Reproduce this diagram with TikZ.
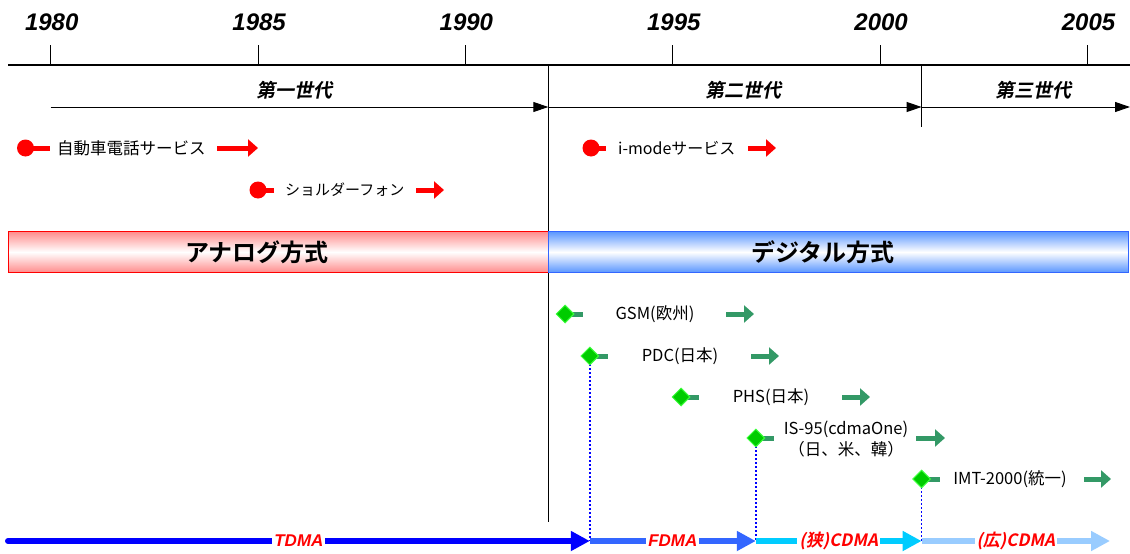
\documentclass[tikz,border=0pt]{standalone}
\usepackage{fontspec}
\setmainfont{Liberation Sans}
\newfontfamily\jp{Noto Sans CJK JP}
\newfontfamily\jpsl[FakeSlant=0.2]{Noto Sans CJK JP}
\newfontfamily\jpb{Noto Sans CJK JP Bold}
\newfontfamily\jpbsl[FakeSlant=0.2]{Noto Sans CJK JP Bold}
\usetikzlibrary{arrows.meta,shapes.geometric}
\definecolor{sea}{RGB}{51,153,102}
\definecolor{gdiam}{RGB}{0,204,0}
\definecolor{gdiamb}{RGB}{60,255,60}
\definecolor{fblue}{RGB}{51,102,255}
\definecolor{ncyan}{RGB}{0,204,255}
\definecolor{wblue}{RGB}{153,204,255}
\definecolor{pinkedge}{RGB}{255,140,140}
\definecolor{blueedge}{RGB}{90,150,255}
\tikzset{
  year/.style={font=\fontsize{24}{24}\selectfont\bfseries\itshape},
  gen/.style={font=\jpbsl\fontsize{19}{19}\selectfont},
  genarr/.style={line width=1pt,-{Triangle[length=15pt,width=10pt]}},
  lbl/.style={font=\jp\fontsize{16.5}{16.5}\selectfont,inner sep=0pt},
  glbl/.style={font=\jp\fontsize{16.5}{21}\selectfont,inner sep=0pt,align=center},
  rdot/.style={circle,fill=red,inner sep=0pt,minimum size=17pt},
  rstub/.style={red,line width=5pt},
  rarr/.style={red,line width=5pt,-{Triangle[length=10pt,width=17pt]}},
  gdia/.style={diamond,fill=gdiam,draw=gdiamb,line width=1pt,inner sep=0pt,minimum size=18pt},
  gstub/.style={sea,line width=5pt},
  garr/.style={sea,line width=5pt,-{Triangle[length=10pt,width=17pt]}},
  bar/.style={line width=1pt,minimum width=540pt,minimum height=41pt,anchor=north west,inner sep=0pt},
  bartext/.style={font=\jpb\fontsize{24}{24}\selectfont},
  bluedot/.style={draw=blue,line width=1.6pt,dash pattern=on 2pt off 2pt},
  tech/.style={line width=6pt,-{Triangle[length=19pt,width=19pt]}},
  techlbl/.style={fill=white,text=red,inner sep=2pt,font=\fontsize{17}{17}\selectfont\bfseries\itshape},
  techlblj/.style={fill=white,text=red,inner sep=2pt,font=\jpbsl\fontsize{17}{17}\selectfont},
}
\begin{document}
\begin{tikzpicture}[x=1pt,y=-1pt]
\useasboundingbox (0,0) rectangle (1130,554);
% years
\foreach \yr/\xx in {1980/50.7,1985/258.1,1990/465.4,1995/672.8,2000/880.1,2005/1087.5}{
  \node[year] (y\yr) at (\xx+1,22) {\yr};
  \coordinate (tk\yr) at (\xx,45);
  \coordinate (tb\yr) at (\xx,65);
  \draw[line width=1.2pt] (tk\yr) -- (tb\yr);
}
\coordinate (axL) at (8,65);
\coordinate (axR) at (1130,65);
\draw[line width=1.5pt] (axL) -- (axR);
% generation dividers
\coordinate (d1t) at (548.3,65);
\coordinate (d1b) at (548.3,522);
\draw[line width=1pt] (d1t) -- (d1b);
\coordinate (d2t) at (921.6,65);
\coordinate (d2b) at (921.6,127);
\draw[line width=1pt] (d2t) -- (d2b);
% generation arrows
\coordinate (g1s) at (50.7,107);
\coordinate (g1e) at (548.3,107);
\coordinate (g2e) at (921.6,107);
\coordinate (g3e) at (1130,107);
\draw[genarr] (g1s) -- (g1e);
\draw[genarr] (g1e) -- (g2e);
\draw[genarr] (g2e) -- (g3e);
\node[gen] (gen1) at (294,90) {第一世代};
\node[gen] (gen2) at (743,90) {第二世代};
\node[gen] (gen3) at (1033,90) {第三世代};
% red services
\node[rdot] (m1) at (25.5,148) {};
\coordinate (m1s) at (50,148);
\draw[rstub] (m1.center) -- (m1s);
\node[lbl,anchor=west] (t1) at (57,148) {自動車電話サービス};
\coordinate (a1s) at (217,148);
\coordinate (a1e) at (258,148);
\draw[rarr] (a1s) -- (a1e);

\node[rdot] (m2) at (258,190) {};
\coordinate (m2s) at (274,190);
\draw[rstub] (m2.center) -- (m2s);
\node[lbl,anchor=west,font=\jp\fontsize{15}{15}\selectfont] (t2) at (285,190) {ショルダーフォン};
\coordinate (a2s) at (416,190);
\coordinate (a2e) at (444,190);
\draw[rarr] (a2s) -- (a2e);

\node[rdot] (m3) at (591,148) {};
\coordinate (m3s) at (606,148);
\draw[rstub] (m3.center) -- (m3s);
\node[lbl,anchor=west,font=\jp\fontsize{16}{16}\selectfont] (t3) at (618,148) {i-modeサービス};
\coordinate (a3s) at (748,148);
\coordinate (a3e) at (776,148);
\draw[rarr] (a3s) -- (a3e);
% bars
\node[bar,draw=red,top color=pinkedge,bottom color=pinkedge,middle color=white] (ana) at (8,231) {};
\node[bartext] (anat) at (257,252) {アナログ方式};
\node[bar,draw=fblue,minimum width=580pt,top color=blueedge,bottom color=blueedge,middle color=white] (dig) at (548.3,231) {};
\node[bartext] (digt) at (823,252) {デジタル方式};
% bottom technology arrows
\coordinate (b0) at (8,541);
\coordinate (b1) at (589.8,541);
\coordinate (b2) at (755.8,541);
\coordinate (b3) at (921.6,541);
\coordinate (b4) at (1110,541);
% dotted connectors
\coordinate (p1) at (589.8,356);
\coordinate (p2) at (755.8,438);
\coordinate (p3) at (921.6,479);
\draw[bluedot] (p1) -- (b1);
\draw[bluedot] (p2) -- (b2);
\draw[bluedot] (p3) -- (b3);
\draw[tech,blue,line cap=round] (b0) -- (b1) node[midway,techlbl] (l1) {TDMA};
\draw[tech,fblue] (b1) -- (b2) node[midway,techlbl] (l2) {FDMA};
\draw[tech,ncyan] (b2) -- (b3) node[midway,techlblj] (l3) {(狭)CDMA};
\draw[tech,wblue] (b3) -- (b4) node[midway,techlblj] (l4) {(広)CDMA};
% green standards
\coordinate (s1s) at (583,314);
\coordinate (s1c) at (565,314);
\draw[gstub] (s1c) -- (s1s);
\node[gdia] (s1) at (s1c) {};
\node[glbl] (u1) at (655,314) {GSM(欧州)};
\coordinate (c1s) at (726,314);
\coordinate (c1e) at (754,314);
\draw[garr] (c1s) -- (c1e);

\coordinate (s2s) at (608,356);
\draw[gstub] (p1) -- (s2s);
\node[gdia] (s2) at (p1) {};
\node[glbl] (u2) at (680,356) {PDC(日本)};
\coordinate (c2s) at (751,356);
\coordinate (c2e) at (779,356);
\draw[garr] (c2s) -- (c2e);

\coordinate (s3s) at (699,397);
\coordinate (s3c) at (681,397);
\draw[gstub] (s3c) -- (s3s);
\node[gdia] (s3) at (s3c) {};
\node[glbl] (u3) at (771,397) {PHS(日本)};
\coordinate (c3s) at (842,397);
\coordinate (c3e) at (870,397);
\draw[garr] (c3s) -- (c3e);

\coordinate (s4s) at (774,438);
\draw[gstub] (p2) -- (s4s);
\node[gdia] (s4) at (p2) {};
\node[glbl] (u4) at (846,439) {IS-95(cdmaOne)\\（日、米、韓）};
\coordinate (c4s) at (916,438);
\coordinate (c4e) at (945,438);
\draw[garr] (c4s) -- (c4e);

\coordinate (s5s) at (940,479);
\draw[gstub] (p3) -- (s5s);
\node[gdia] (s5) at (p3) {};
\node[glbl] (u5) at (1010,479) {IMT-2000(統一)};
\coordinate (c5s) at (1084,479);
\coordinate (c5e) at (1111,479);
\draw[garr] (c5s) -- (c5e);
\end{tikzpicture}
\end{document}
